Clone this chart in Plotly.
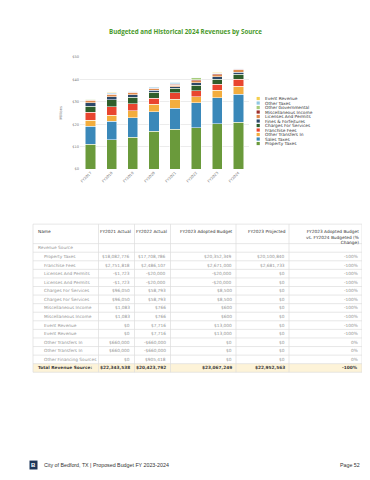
import plotly.graph_objects as go

# The page body has an 8px margin, so the figure is sized to fit the 370x480 window
OFF = 8
W, H = 370 - 2 * OFF, 480 - 2 * OFF - 2

# ---------------- chart data (millions) ----------------
years = ["FY2017", "FY2018", "FY2019", "FY2020", "FY2021", "FY2022", "FY2023", "FY2024"]
property_taxes = [11.2, 13.0, 14.3, 17.0, 17.9, 18.5, 20.3, 21.0]
sales_taxes = [7.9, 8.3, 8.6, 8.7, 9.2, 11.2, 11.5, 12.4]
other_transfers_in = [2.8, 2.8, 3.1, 3.3, 4.1, 2.7, 3.3, 3.6]
franchise_fees = [3.4, 3.7, 3.1, 2.7, 2.8, 2.5, 2.8, 3.1]
charges_for_services = [2.8, 3.1, 2.9, 2.5, 2.1, 2.5, 2.3, 2.2]
fines_forfeitures = [1.6, 1.5, 1.3, 1.0, 0.7, 1.2, 1.1, 1.0]
licenses_permits = [1.0, 0.8, 0.8, 0.7, 0.7, 0.9, 0.9, 1.0]
misc_income = [0.3, 0.3, 0.2, 0.3, 0.3, 0.4, 0.4, 0.3]
other_governmental = [0.1, 0.2, 0.2, 0.2, 0.3, 0.8, 0.2, 0.2]
other_taxes = [0.2, 0.3, 0.3, 0.3, 0.6, 0.3, 0.3, 0.2]
event_revenue = [0.1, 0.2, 0.1, 0.1, 0.2, 0.1, 0.2, 0.1]

series_names = ["Property Taxes", "Sales Taxes", "Other Transfers In", "Franchise Fees",
                "Charges For Services", "Fines & Forfeitures", "Licenses And Permits",
                "Miscellaneous Income", "Other Governmental", "Other Taxes", "Event Revenue"]
series_values = [property_taxes, sales_taxes, other_transfers_in, franchise_fees,
                 charges_for_services, fines_forfeitures, licenses_permits,
                 misc_income, other_governmental, other_taxes, event_revenue]
series_colors = ["#6a9a3b", "#3a88b9", "#f3ad3e", "#e9452f", "#2f5e2b", "#2c4868",
                 "#de8a4c", "#9e2f2a", "#a7cc7d", "#90c8e2", "#f4cf4e"]

y_tickvals = [0, 10, 20, 30, 40, 50]
y_ticktext = ["$0", "$10", "$20", "$30", "$40", "$50"]

# ---------------- table data ----------------
table_header = ["Name", "FY2021 Actual", "FY2022 Actual", "FY2023 Adopted Budget",
                "FY2023 Projected", "FY2023 Adopted Budget<br>vs. FY2024 Budgeted (%<br>Change)"]
row_names = ["Property Taxes", "Franchise Fees", "Licenses And Permits", "Licenses And Permits",
             "Charges For Services", "Charges For Services", "Miscellaneous Income",
             "Miscellaneous Income", "Event Revenue", "Event Revenue", "Other Transfers In",
             "Other Transfers In", "Other Financing Sources"]
fy2021_actual = ["$18,082,776", "$2,751,818", "-$1,723", "-$1,723", "$96,050", "$96,050",
                 "$1,083", "$1,083", "$0", "$0", "$660,000", "$660,000", "$0"]
fy2022_actual = ["$17,708,786", "$2,486,107", "-$20,000", "-$20,000", "$58,793", "$58,793",
                 "$766", "$766", "$7,716", "$7,716", "-$660,000", "-$660,000", "$905,418"]
fy2023_adopted = ["$20,352,349", "$2,671,000", "-$20,000", "-$20,000", "$8,500", "$8,500",
                  "$600", "$600", "$13,000", "$13,000", "$0", "$0", "$0"]
fy2023_projected = ["$20,100,840", "$2,681,733", "$0", "$0", "$0", "$0",
                    "$0", "$0", "$0", "$0", "$0", "$0", "$0"]
pct_change = ["-100%", "-100%", "-100%", "-100%", "-100%", "-100%",
              "-100%", "-100%", "-100%", "-100%", "0%", "0%", "0%"]
total_row = ["Total Revenue Source:", "$22,343,538", "$20,423,792", "$23,067,249",
             "$22,952,563", "-100%"]

fig = go.Figure()

for name, vals, col in zip(series_names, series_values, series_colors):
    fig.add_trace(go.Bar(x=years, y=vals, name=name,
                         marker=dict(color=col, line=dict(width=0.5, color="white")),
                         showlegend=False))


def px(x):
    return (x - OFF) / W


def py(y):
    return 1 - (y - OFF) / H


FONT = "DejaVu Sans"
TFONT = "Open Sans"

fig.update_layout(
    width=W, height=H,
    margin=dict(l=0, r=0, t=0, b=0),
    paper_bgcolor="white", plot_bgcolor="white",
    barmode="stack", bargap=0.52,
    font=dict(family=FONT),
    xaxis=dict(domain=[px(80), px(249)], tickangle=-45, tickfont=dict(size=3.6, color="#777"),
               showgrid=False, ticks="", showline=False),
    yaxis=dict(domain=[py(168.5), py(55.5)], range=[0, 50], tickvals=y_tickvals, ticktext=y_ticktext,
               tickfont=dict(size=3.6, color="#777"), gridcolor="#ececec", gridwidth=0.6,
               zeroline=False, showline=False, ticks=""),
)

ann = []
shapes = []

# y axis title
ann.append(dict(text="Millions", x=px(61.5), y=py(112), xref="paper", yref="paper", showarrow=False,
                textangle=-90, xanchor="center", yanchor="middle",
                font=dict(size=3.6, color="#777", family=FONT)))

# title
ann.append(dict(text="<b>Budgeted and Historical 2024 Revenues by Source</b>", x=px(185), y=py(30),
                xref="paper", yref="paper", showarrow=False, xanchor="center", yanchor="middle",
                font=dict(size=6.2, color="#4a9a2c", family=TFONT)))

# custom legend (top: Event Revenue ... bottom: Property Taxes)
for i, (name, col) in enumerate(zip(series_names[::-1], series_colors[::-1])):
    yc = 97.3 + i * 4.54
    shapes.append(dict(type="rect", xref="paper", yref="paper", x0=px(256.6), x1=px(259.8),
                       y0=py(yc + 1.6), y1=py(yc - 1.6), fillcolor=col, line=dict(width=0)))
    ann.append(dict(text=name, x=px(262.5), y=py(yc), xref="paper", yref="paper", showarrow=False,
                    xanchor="left", yanchor="middle", font=dict(size=4.3, color="#333", family=FONT)))

# ---------------- table ----------------
col_edges = [33, 98.5, 134.5, 170.5, 236, 289, 362]
t_top = 224
row_h = 8.65
first_center = 248
n_rows = 15  # Revenue Source + 13 rows + total
hdr_bottom = first_center - row_h / 2
t_bottom = first_center + (n_rows - 1) * row_h + row_h / 2
line_col = "#dcdcdc"

tot_c = first_center + (n_rows - 1) * row_h
shapes.append(dict(type="rect", xref="paper", yref="paper", x0=px(col_edges[0]), x1=px(col_edges[-1]),
                   y0=py(tot_c + row_h / 2), y1=py(tot_c - row_h / 2), fillcolor="#fdf3d8",
                   line=dict(width=0), layer="below"))
ys = [t_top, hdr_bottom] + [hdr_bottom + row_h * (k + 1) for k in range(n_rows)]
for yv in ys:
    shapes.append(dict(type="line", xref="paper", yref="paper", x0=px(col_edges[0]), x1=px(col_edges[-1]),
                       y0=py(yv), y1=py(yv), line=dict(color=line_col, width=0.7)))
for xv in col_edges:
    shapes.append(dict(type="line", xref="paper", yref="paper", x0=px(xv), x1=px(xv),
                       y0=py(t_top), y1=py(t_bottom), line=dict(color=line_col, width=0.7)))

TF = 4.3
for j, h in enumerate(table_header):
    if j == 0:
        ann.append(dict(text=h, x=px(col_edges[0] + 3), y=py(t_top + 2.5), xref="paper", yref="paper",
                        showarrow=False, xanchor="left", yanchor="top", align="left",
                        font=dict(size=TF, color="#333", family=FONT)))
    else:
        ann.append(dict(text=h, x=px(col_edges[j + 1] - 1.5), y=py(t_top + 2.5), xref="paper", yref="paper",
                        showarrow=False, xanchor="right", yanchor="top", align="right",
                        font=dict(size=TF, color="#333", family=FONT)))

ann.append(dict(text="Revenue Source", x=px(col_edges[0] + 3), y=py(first_center), xref="paper",
                yref="paper", showarrow=False, xanchor="left", yanchor="middle",
                font=dict(size=TF, color="#939393", family=FONT)))
body_cols = [fy2021_actual, fy2022_actual, fy2023_adopted, fy2023_projected, pct_change]
for r, nm in enumerate(row_names):
    yc = first_center + (r + 1) * row_h
    ann.append(dict(text=nm, x=px(col_edges[0] + 8.5), y=py(yc), xref="paper", yref="paper",
                    showarrow=False, xanchor="left", yanchor="middle",
                    font=dict(size=TF, color="#939393", family=FONT)))
    for j, colvals in enumerate(body_cols):
        ann.append(dict(text=colvals[r], x=px(col_edges[j + 2] - 2.5), y=py(yc), xref="paper", yref="paper",
                        showarrow=False, xanchor="right", yanchor="middle",
                        font=dict(size=TF, color="#939393", family=FONT)))
for j, v in enumerate(total_row):
    if j == 0:
        ann.append(dict(text="<b>" + v + "</b>", x=px(col_edges[0] + 3), y=py(tot_c), xref="paper",
                        yref="paper", showarrow=False, xanchor="left", yanchor="middle",
                        font=dict(size=TF, color="#3a3a3a", family=FONT)))
    else:
        ann.append(dict(text="<b>" + v + "</b>", x=px(col_edges[j + 1] - 2.5), y=py(tot_c), xref="paper",
                        yref="paper", showarrow=False, xanchor="right", yanchor="middle",
                        font=dict(size=TF, color="#3a3a3a", family=FONT)))

# ---------------- footer ----------------
shapes.append(dict(type="rect", xref="paper", yref="paper", x0=px(29.5), x1=px(37.5), y0=py(471.5),
                   y1=py(462.5), fillcolor="#1d3557", line=dict(width=0)))
ann.append(dict(text="<b>B</b>", x=px(33.5), y=py(467), xref="paper", yref="paper", showarrow=False,
                xanchor="center", yanchor="middle", font=dict(size=6, color="white", family="Liberation Sans")))
ann.append(dict(text="City of Bedford, TX | Proposed Budget FY 2023-2024", x=px(42), y=py(467), xref="paper",
                yref="paper", showarrow=False, xanchor="left", yanchor="middle",
                font=dict(size=5.3, color="#333", family="Liberation Sans")))
ann.append(dict(text="Page 52", x=px(362), y=py(467), xref="paper", yref="paper", showarrow=False,
                xanchor="right", yanchor="middle", font=dict(size=5.3, color="#333", family="Liberation Sans")))

fig.update_layout(annotations=ann, shapes=shapes)
fig.write_html("out.html")
